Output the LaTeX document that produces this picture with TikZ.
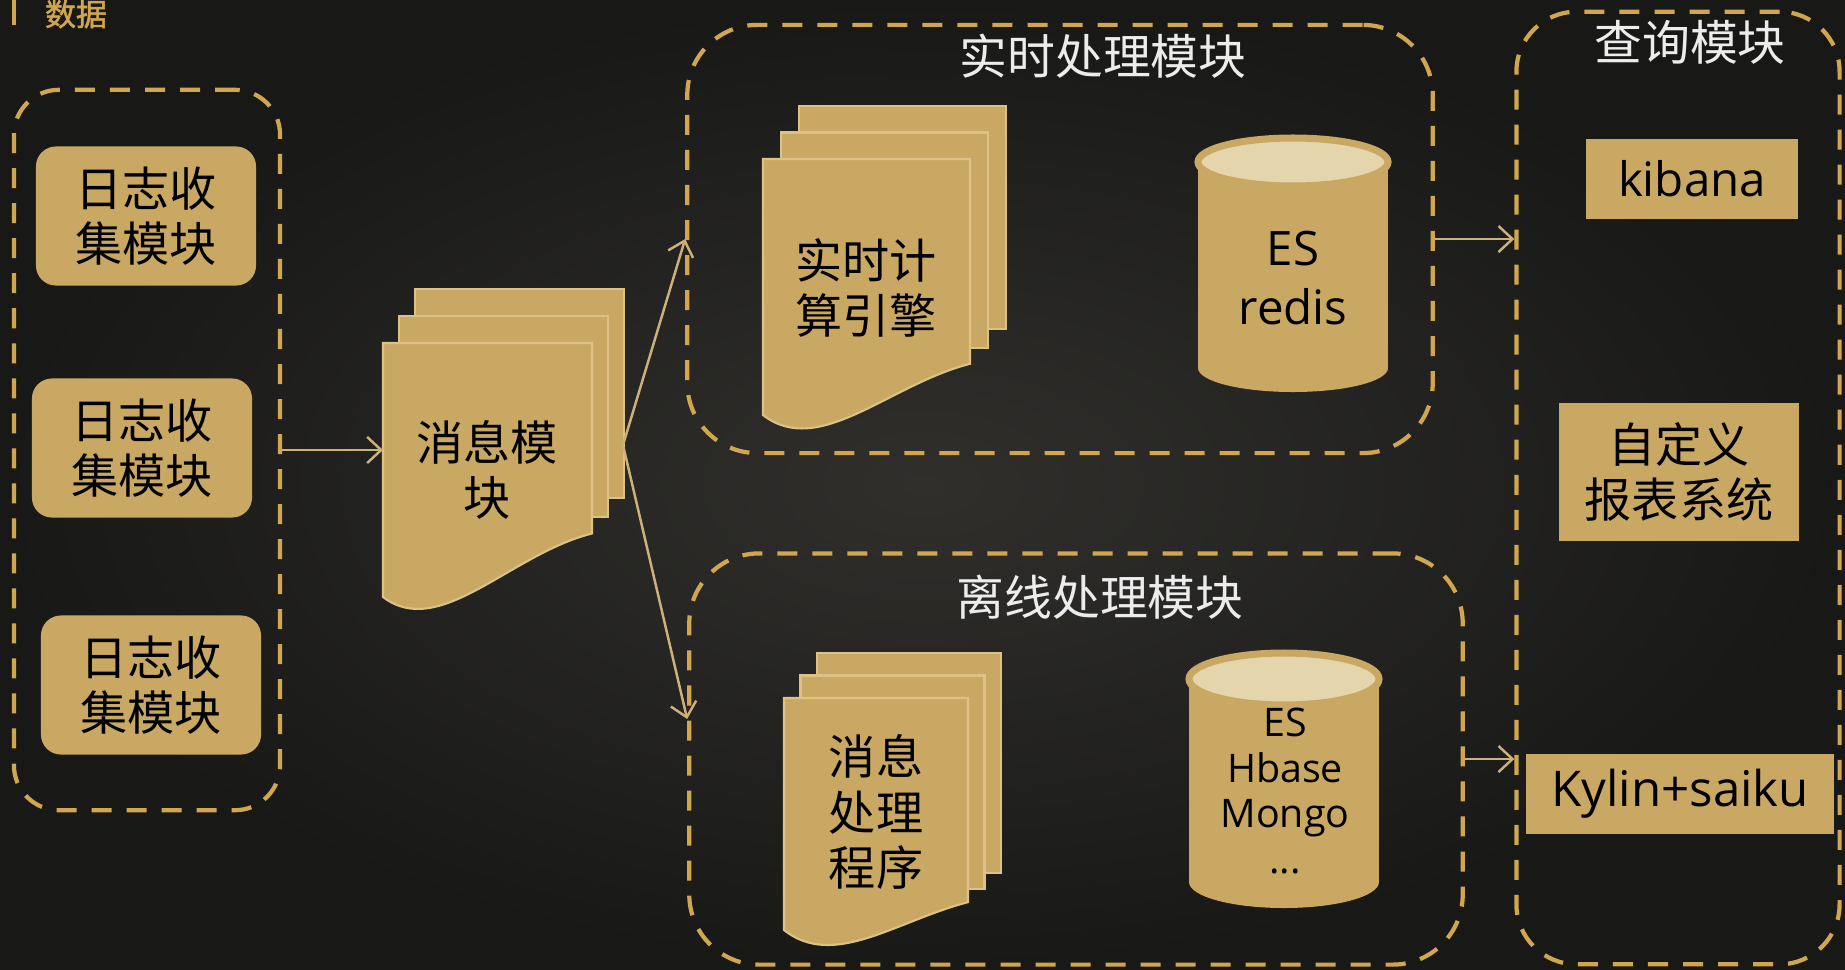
\documentclass[tikz,border=0pt]{standalone}
\usepackage{fontspec}
\setmainfont{Noto Sans CJK SC}
\newfontfamily\latinfont{Open Sans}
\newfontfamily\cjkheavy[FakeBold=1.6]{Noto Sans CJK SC}
\usetikzlibrary{arrows.meta}

\definecolor{bgdark}{RGB}{24,24,23}
\definecolor{bglight}{RGB}{48,47,44}
\definecolor{tan}{RGB}{201,168,99}
\definecolor{tanedge}{RGB}{220,194,134}
\definecolor{dashtan}{RGB}{210,166,78}
\definecolor{linetan}{RGB}{204,178,122}
\definecolor{captop}{RGB}{229,213,172}
\definecolor{titlegray}{RGB}{236,236,236}

\newcommand{\cjklabel}{\fontsize{13.4pt}{15.8pt}\selectfont}
\newcommand{\cjktitle}{\fontsize{13.6pt}{16pt}\selectfont}
\newcommand{\latinlabel}{\latinfont\fontsize{13.5pt}{16.7pt}\selectfont}
\newcommand{\latinsmall}{\latinfont\fontsize{11.2pt}{13pt}\selectfont}

% stacked pages: x, y (front top left), width, left height, dx, dy, right bottom ratio
\newcommand{\multidoc}[7]{%
  \filldraw[docpage] ({#1+2*#5},{#2-2*#6}) rectangle ({#1+2*#5+#3},{#2+#7*#4-1.3*#6});
  \filldraw[docpage] ({#1+#5},{#2-#6}) rectangle ({#1+#5+#3},{#2+#7*#4-0.6*#6});
  \filldraw[docpage] (#1,#2) -- (#1,{#2+#4})
    .. controls ({#1+0.27*#3},{#2+1.17*#4}) and ({#1+0.61*#3},{#2+(#7+0.08)*#4}) ..
    ({#1+#3},{#2+#7*#4}) -- ({#1+#3},#2) -- cycle;
}
% database: center x, top y, bottom y, half width, cap radius
\newcommand{\dbcyl}[5]{%
  \fill[tan] ({#1-#4},#2) rectangle ({#1+#4},#3);
  \fill[tan] (#1,#3) ellipse[x radius=#4, y radius=#5];
  \filldraw[fill=captop, draw=tan, line width=2pt] (#1,#2) ellipse[x radius=#4, y radius=#5];
}

\tikzset{
  dashgroup/.style={draw=dashtan, line width=1.2pt, dash pattern=on 0.2cm off 0.15cm, rounded corners=0.7cm},
  logbox/.style={fill=tan, rounded corners=0.2cm, minimum width=2.2cm, minimum height=1.39cm, font=\cjklabel, align=center},
  toolbox/.style={fill=tan, align=center, inner sep=0pt},
  docpage/.style={fill=tan, draw=tanedge, line width=0.6pt},
  doctext/.style={font=\cjklabel, align=center},
  grptitle/.style={text=titlegray, font=\cjktitle},
  flowarrow/.style={draw=linetan, line width=0.7pt, -{Straight Barb[length=0.14cm,width=0.26cm]}},
}

\begin{document}
\begin{tikzpicture}[x=0.01cm, y=-0.01cm]
    \useasboundingbox (0,0) rectangle (1845,969);
    \clip (0,0) rectangle (1845,969);
    \shade[inner color=bglight, outer color=bgdark] (0,0) rectangle (1845,969);

    % heading in the corner
    \draw[dashtan, line width=1pt] (14,0) -- (14,25);
    \node[text=dashtan, font=\cjkheavy\fontsize{8.8pt}{10pt}\selectfont] (datahead) at (76,14) {数据};

    % dashed groups
    \node[dashgroup, rounded corners=0.45cm, minimum width=2.66cm, minimum height=7.2cm] (logs) at (147,450) {};
    \node[dashgroup, minimum width=7.45cm, minimum height=4.28cm] (rt) at (1060,239) {};
    \node[dashgroup, minimum width=7.73cm, minimum height=4.11cm] (off) at (1076,759) {};
    \node[dashgroup, rounded corners=0.6cm, minimum width=3.23cm, minimum height=9.52cm] (qry) at (1678,488) {};

    \node[grptitle] (rttitle) at (1103,56) {实时处理模块};
    \node[grptitle] (offtitle) at (1100,597) {离线处理模块};
    \node[grptitle] (qrytitle) at (1690,42) {查询模块};

    % log collectors
    \node[logbox] (log1) at (146,216) {日志收\\集模块};
    \node[logbox] (log2) at (142,448) {日志收\\集模块};
    \node[logbox] (log3) at (151,685) {日志收\\集模块};

    % message queue
    \multidoc{383}{343}{209}{254}{16}{27}{0.75}
    \node[doctext] (msg) at (487,470) {消息模\\块};
    \coordinate (msgin) at (383,450);
    \coordinate (msgout) at (623,445);

    % realtime part
    \multidoc{763}{159}{207}{256}{18}{26.5}{0.8}
    \node[doctext] (engine) at (866,288) {实时计\\算引擎};
    \dbcyl{1293}{162}{368}{95}{24}
    \node[font=\latinlabel, align=center] (esrt) at (1293,278) {ES\\redis};

    % offline part
    \multidoc{784}{698}{184}{232}{16.5}{22.5}{0.88}
    \node[doctext] (proc) at (876,812) {消息\\处理\\程序};
    \dbcyl{1284}{679}{882}{95}{26}
    \node[font=\latinsmall, align=center] (esoff) at (1285,791) {ES\\Hbase\\Mongo\\...};

    % query tools
    \node[toolbox, minimum width=2.12cm, minimum height=0.8cm, font=\latinlabel] (kibana) at (1692,179) {kibana};
    \node[toolbox, minimum width=2.39cm, minimum height=1.37cm, font=\cjklabel] (report) at (1679,472) {自定义\\报表系统};
    \node[toolbox, minimum width=3.07cm, minimum height=0.79cm, font=\latinfont\fontsize{14pt}{16pt}\selectfont] (kylin) at (1680,794) {Kylin+saiku};

    % flows
    \draw[flowarrow] (logs.east) -- (msgin);
    \draw[flowarrow] (msgout) -- (rt.west);
    \draw[flowarrow] (msgout) -- ([yshift=0.4cm]off.west);
    \draw[flowarrow] (rt.east) -- (rt.east -| qry.west);
    \draw[flowarrow] (off.east) -- (off.east -| qry.west);
\end{tikzpicture}
\end{document}
